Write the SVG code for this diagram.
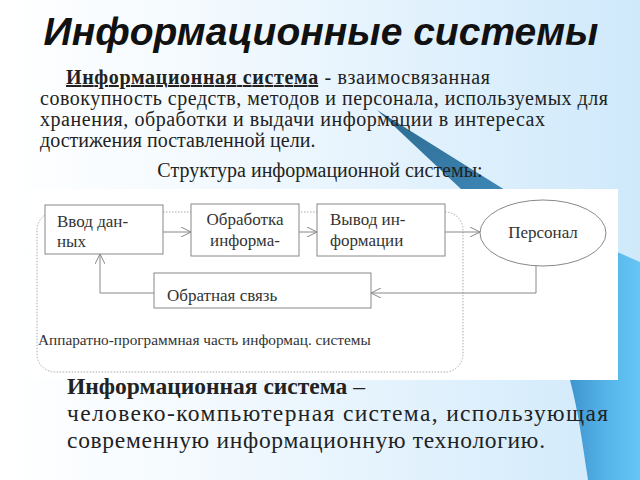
<svg xmlns="http://www.w3.org/2000/svg" width="640" height="480" viewBox="0 0 640 480">
<defs>
<linearGradient id="bg" x1="0" y1="0" x2="1" y2="0">
<stop offset="0" stop-color="#ffffff"/>
<stop offset="0.35" stop-color="#f2f9fe"/>
<stop offset="1" stop-color="#cfe9fb"/>
</linearGradient>
<linearGradient id="wedge" x1="0" y1="0" x2="1" y2="1">
<stop offset="0" stop-color="#2c6a8e"/>
<stop offset="1" stop-color="#3d86b6"/>
</linearGradient>
<linearGradient id="band" x1="0" y1="0" x2="1" y2="0">
<stop offset="0" stop-color="#3f95cf"/>
<stop offset="0.5" stop-color="#55b3e8"/>
<stop offset="1" stop-color="#66c6f5"/>
</linearGradient>
<marker id="open" viewBox="0 0 10 10" refX="10" refY="5" markerWidth="10" markerHeight="10" markerUnits="userSpaceOnUse" orient="auto">
<path d="M0,0 L10,5 L0,10" fill="none" stroke="#888" stroke-width="1"/>
</marker>
<style>
.title{font-family:"Liberation Sans",Arial,sans-serif;font-weight:bold;font-style:italic;font-size:39px;fill:#111}
.p{font-family:"Liberation Serif","Times New Roman",serif;font-size:20px;fill:#222}
.b{font-weight:bold}
.bt{font-family:"Liberation Serif","Times New Roman",serif;font-size:23.5px;fill:#222}
.d{font-family:"Liberation Serif","Times New Roman",serif;font-size:17px;fill:#333}
.box{fill:#fff;stroke:#888;stroke-width:1}
.ln{fill:none;stroke:#888;stroke-width:1}
</style>
</defs>
<rect width="640" height="480" fill="url(#bg)"/>
<path d="M377,110 L505,190 L462,190 Z" fill="url(#wedge)"/>
<path d="M590,240 L640,262 L640,480 L588,480 C582,440 578,410 570,380 L600,380 Z" fill="url(#band)"/>
<text class="title" x="321" y="45" text-anchor="middle">Информационные системы</text>
<text class="p" x="66" y="84" textLength="424" lengthAdjust="spacing"><tspan class="b" text-decoration="underline">Информационная система</tspan> - взаимосвязанная</text>
<text class="p" x="40" y="105" textLength="568" lengthAdjust="spacing">совокупность средств, методов и персонала, используемых для</text>
<text class="p" x="40" y="126" textLength="505" lengthAdjust="spacing">хранения, обработки и выдачи информации в интересах</text>
<text class="p" x="40" y="147">достижения поставленной цели.</text>
<text class="p" x="320" y="177" text-anchor="middle">Структура информационной системы:</text>
<rect x="30" y="189" width="588" height="191" fill="#fff"/>
<rect x="37" y="212" width="426" height="160" rx="18" ry="18" fill="none" stroke="#aaa" stroke-width="1" stroke-dasharray="1.5,1.5"/>
<g id="connectors">
<line class="ln" x1="163" y1="232" x2="191" y2="232" marker-end="url(#open)"/>
<line class="ln" x1="299" y1="232" x2="317" y2="232" marker-end="url(#open)"/>
<line class="ln" x1="445" y1="232" x2="480" y2="232" marker-end="url(#open)"/>
<polyline class="ln" points="536,266 536,293 371,293" marker-end="url(#open)"/>
<polyline class="ln" points="154,293 100,293 100,254" marker-end="url(#open)"/>
</g>
<g id="input">
<rect class="box" x="45" y="205" width="118" height="49"/>
<text class="d" x="57" y="227">Ввод дан-</text>
<text class="d" x="57" y="247">ных</text>
</g>
<g id="processing">
<rect class="box" x="191" y="204" width="108" height="52"/>
<text class="d" x="245" y="225" text-anchor="middle">Обработка</text>
<text class="d" x="245" y="246" text-anchor="middle">информа-</text>
</g>
<g id="output">
<rect class="box" x="317" y="204" width="128" height="52"/>
<text class="d" x="330" y="225">Вывод ин-</text>
<text class="d" x="330" y="246">формации</text>
</g>
<g id="personnel">
<ellipse class="box" cx="543" cy="233" rx="63" ry="33"/>
<text class="d" x="543" y="238" text-anchor="middle">Персонал</text>
</g>
<g id="feedback">
<rect class="box" x="154" y="273" width="217" height="35"/>
<text class="d" x="167" y="301">Обратная связь</text>
</g>
<text class="d" x="38" y="345" style="font-size:15.3px">Аппаратно-программная часть информац. системы</text>
<text class="bt" x="67" y="394"><tspan class="b">Информационная система</tspan> –</text>
<text class="bt" x="67" y="421" textLength="541" lengthAdjust="spacing">человеко-компьютерная система, использующая</text>
<text class="bt" x="67" y="448" textLength="478" lengthAdjust="spacing">современную информационную технологию.</text>
</svg>
